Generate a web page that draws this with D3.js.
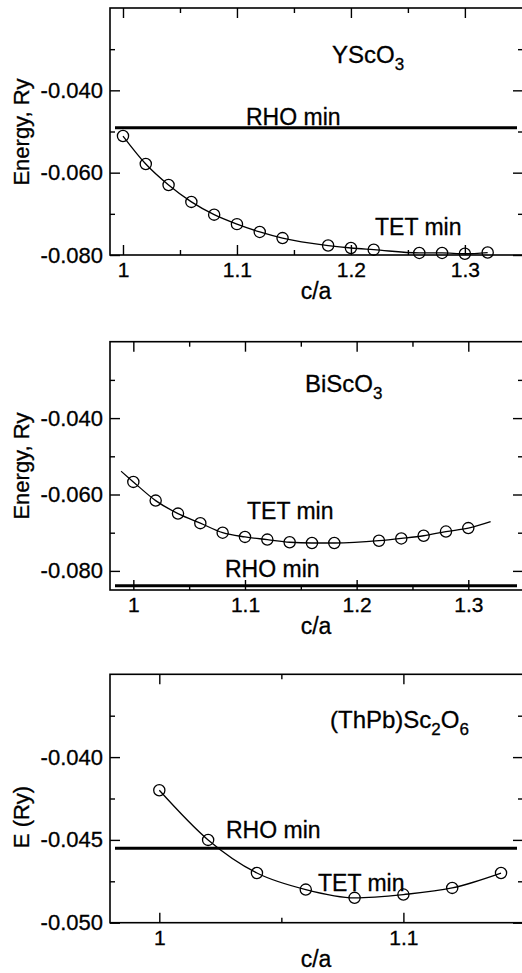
<!DOCTYPE html>
<html>
<head>
<meta charset="utf-8">
<script src="https://cdn.jsdelivr.net/npm/d3@7"></script>
<style>
  body { margin: 0; background: #fff; }
  text { font-family: "Liberation Sans", Arial, sans-serif; fill: #000; stroke: #000; stroke-width: 0.3px; }
</style>
</head>
<body>
<div class="chart-container"></div>
<script>
// YScO3
const ysoCa = [1.00, 1.02, 1.04, 1.06, 1.08, 1.10, 1.12, 1.14, 1.18, 1.20, 1.22, 1.26, 1.28, 1.30, 1.32];
const ysoE = [-0.0511, -0.0579, -0.0630, -0.0671, -0.0702, -0.0725, -0.0744, -0.0759, -0.0777, -0.0783, -0.0787, -0.0795, -0.0795, -0.0797, -0.0794];
const ysoRho = -0.0491;

// BiScO3 (fit line runs a bit past the points on both ends)
const bsoCa = [1.00, 1.02, 1.04, 1.06, 1.08, 1.10, 1.12, 1.14, 1.16, 1.18, 1.22, 1.24, 1.26, 1.28, 1.30];
const bsoE = [-0.0567, -0.0616, -0.0650, -0.0675, -0.0700, -0.0711, -0.0718, -0.0725, -0.0727, -0.0727, -0.0721, -0.0715, -0.0708, -0.0697, -0.0688];
const bsoFitEndsCa = [0.989, 1.32];
const bsoFitEndsE = [-0.0539, -0.0671];
const bsoRho = -0.0839;

// (ThPb)Sc2O6
const tpsCa = [1.00, 1.02, 1.04, 1.06, 1.08, 1.10, 1.12, 1.14];
const tpsE = [-0.0420, -0.0450, -0.0470, -0.0480, -0.0485, -0.0483, -0.0479, -0.0470];
const tpsRho = -0.0455;

// ticks
const xMajorA = [1, 1.1, 1.2, 1.3];
const xMinorA = [1.05, 1.15, 1.25];
const xMajorB = [1, 1.1];
const xMinorB = [1.05];
const yMajorA = [-0.040, -0.060, -0.080];
const yMinorA = [-0.030, -0.050, -0.070];
const yMajorB = [-0.040, -0.045, -0.050];
const yMinorB = [-0.0375, -0.0425, -0.0475];

const W = 522, H = 973;
const left = 110, right = 523;

const svg = d3.select(".chart-container").append("svg")
    .attr("width", W)
    .attr("height", H);

const panels = [
  {
    top: 8, bottom: 255,
    xDom: [0.9886, 1.351], yDom: [-0.080, -0.020],
    xMajor: xMajorA, xMinor: xMinorA, yMajor: yMajorA, yMinor: yMinorA,
    ca: ysoCa, e: ysoE, rho: ysoRho,
    title: ["YScO", "3"], ylabel: "Energy, Ry", ylabelY: 132,
    titlePos: [222, 55], rhoPos: [136, 117], tetPos: [265, 227]
  },
  {
    top: 341.7, bottom: 590,
    xDom: [0.9791, 1.349], yDom: [-0.085, -0.020],
    xMajor: xMajorA, xMinor: xMinorA, yMajor: yMajorA, yMinor: yMinorA,
    ca: bsoCa, e: bsoE, rho: bsoRho,
    fitCa: bsoFitEndsCa, fitE: bsoFitEndsE,
    title: ["BiScO", "3"], ylabel: "Energy, Ry", ylabelY: 466,
    titlePos: [195, 50], rhoPos: [115, 235], tetPos: [137, 177]
  },
  {
    top: 674.3, bottom: 922.7,
    xDom: [0.9798, 1.149], yDom: [-0.050, -0.035],
    xMajor: xMajorB, xMinor: xMinorB, yMajor: yMajorB, yMinor: yMinorB,
    ca: tpsCa, e: tpsE, rho: tpsRho,
    title: ["(ThPb)Sc", "2", "O", "6"], ylabel: "E (Ry)", ylabelY: 817,
    titlePos: [220, 54], rhoPos: [116, 164], tetPos: [208, 217]
  }
];

panels.forEach((p) => {
  const width = right - left;
  const height = p.bottom - p.top;

  const x = d3.scaleLinear().domain(p.xDom).range([0, width]);
  const y = d3.scaleLinear().domain(p.yDom).range([height, 0]);

  const g = svg.append("g")
      .attr("transform", "translate(" + left + "," + p.top + ")");

  // ticks, all pointing inward
  const xFmt = (d) => String(+d.toFixed(2));
  const yFmt = (d) => d.toFixed(3);

  const styleAxis = (sel) => {
    sel.select(".domain").remove();
    sel.selectAll("line").attr("stroke", "#000").attr("stroke-width", 1.4);
  };

  g.append("g")
      .attr("transform", "translate(0," + height + ")")
      .call(d3.axisBottom(x).tickValues(p.xMajor).tickSize(-10).tickPadding(7).tickFormat(xFmt))
      .call(styleAxis)
      .selectAll("text")
      .attr("font-size", 21)
      .attr("font-family", "Liberation Sans, Arial, sans-serif");
  g.append("g")
      .attr("transform", "translate(0," + height + ")")
      .call(d3.axisBottom(x).tickValues(p.xMinor).tickSize(-5).tickFormat(""))
      .call(styleAxis);
  g.append("g")
      .call(d3.axisTop(x).tickValues(p.xMajor).tickSize(-10).tickFormat(""))
      .call(styleAxis);
  g.append("g")
      .call(d3.axisTop(x).tickValues(p.xMinor).tickSize(-5).tickFormat(""))
      .call(styleAxis);

  g.append("g")
      .call(d3.axisLeft(y).tickValues(p.yMajor).tickSize(-10).tickPadding(7).tickFormat(yFmt))
      .call(styleAxis)
      .selectAll("text")
      .attr("font-size", 22)
      .attr("font-family", "Liberation Sans, Arial, sans-serif");
  g.append("g")
      .call(d3.axisLeft(y).tickValues(p.yMinor).tickSize(-5).tickFormat(""))
      .call(styleAxis);
  g.append("g")
      .attr("transform", "translate(" + width + ",0)")
      .call(d3.axisRight(y).tickValues(p.yMajor).tickSize(-10).tickFormat(""))
      .call(styleAxis);
  g.append("g")
      .attr("transform", "translate(" + width + ",0)")
      .call(d3.axisRight(y).tickValues(p.yMinor).tickSize(-5).tickFormat(""))
      .call(styleAxis);

  // frame
  g.append("rect")
      .attr("width", width)
      .attr("height", height)
      .attr("fill", "none")
      .attr("stroke", "#000")
      .attr("stroke-width", 1.6);

  // RHO min line
  g.append("line")
      .attr("x1", x(p.xDom[0]) + 5)
      .attr("x2", x(p.xDom[1]) - 6)
      .attr("y1", y(p.rho))
      .attr("y2", y(p.rho))
      .attr("stroke", "#000")
      .attr("stroke-width", 3);

  // energy curve
  let pts = p.ca.map((c, i) => [c, p.e[i]]);
  if (p.fitCa) {
    pts = [[p.fitCa[0], p.fitE[0]], ...pts, [p.fitCa[1], p.fitE[1]]];
  }
  const line = d3.line()
      .x((d) => x(d[0]))
      .y((d) => y(d[1]))
      .curve(d3.curveMonotoneX);

  g.append("path")
      .datum(pts)
      .attr("d", line)
      .attr("fill", "none")
      .attr("stroke", "#000")
      .attr("stroke-width", 1.3);

  g.selectAll("circle.pt")
      .data(p.ca)
    .enter().append("circle")
      .attr("class", "pt")
      .attr("cx", (d) => x(d))
      .attr("cy", (d, i) => y(p.e[i]))
      .attr("r", 5.6)
      .attr("fill", "none")
      .attr("stroke", "#000")
      .attr("stroke-width", 1.3);

  // annotations
  const title = g.append("text")
      .attr("x", p.titlePos[0])
      .attr("y", p.titlePos[1])
      .attr("font-size", 24);
  p.title.forEach((t, i) => {
    const sub = i % 2 === 1;
    title.append("tspan")
        .attr("dy", i === 0 ? 0 : (sub ? 7 : -7))
        .attr("font-size", sub ? 17 : 24)
        .text(t);
  });

  g.append("text")
      .attr("x", p.rhoPos[0])
      .attr("y", p.rhoPos[1])
      .attr("font-size", 23)
      .text("RHO min");
  g.append("text")
      .attr("x", p.tetPos[0])
      .attr("y", p.tetPos[1])
      .attr("font-size", 23)
      .text("TET min");

  // axis labels
  svg.append("text")
      .attr("x", 316)
      .attr("y", p.bottom + 44)
      .attr("text-anchor", "middle")
      .attr("font-size", 23)
      .text("c/a");

  svg.append("text")
      .attr("transform", "translate(29," + p.ylabelY + ") rotate(-90)")
      .attr("text-anchor", "middle")
      .attr("font-size", 22)
      .text(p.ylabel);
});
</script>
</body>
</html>
